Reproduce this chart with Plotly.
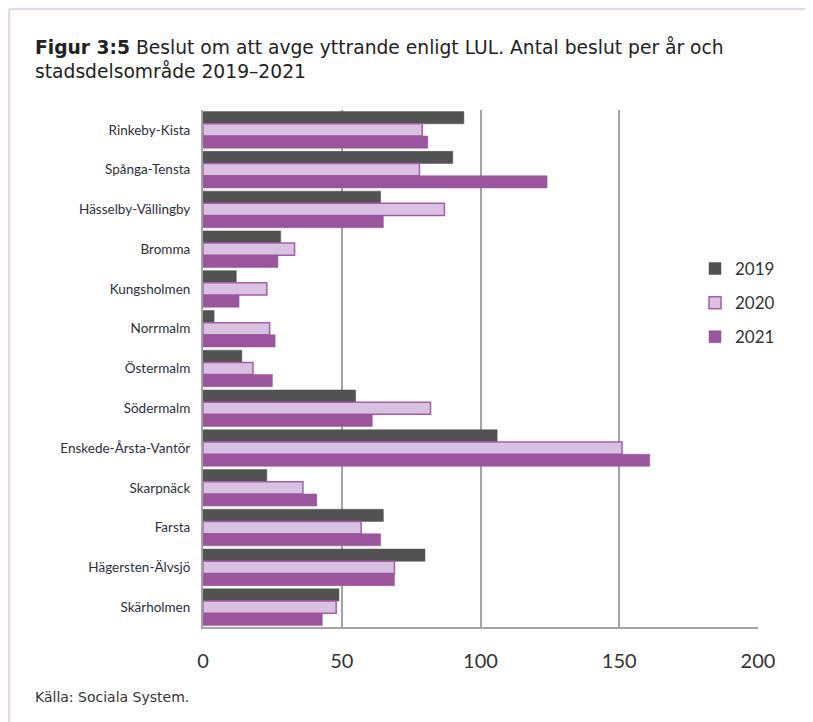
import plotly.graph_objects as go

categories = ["Rinkeby-Kista", "Spånga-Tensta", "Hässelby-Vällingby", "Bromma", "Kungsholmen",
              "Norrmalm", "Östermalm", "Södermalm", "Enskede-Årsta-Vantör", "Skarpnäck",
              "Farsta", "Hägersten-Älvsjö", "Skärholmen"]
v2019 = [94, 90, 64, 28, 12, 4, 14, 55, 106, 23, 65, 80, 49]
v2020 = [79, 78, 87, 33, 23, 24, 18, 82, 151, 36, 57, 69, 48]
v2021 = [81, 124, 65, 27, 13, 26, 25, 61, 161, 41, 64, 69, 43]
years = ["2019", "2020", "2021"]
tick_vals = [0, 50, 100, 150, 200]

FONT = "Lato, 'Open Sans', sans-serif"
TFONT = "'DejaVu Sans', 'Open Sans', sans-serif"
TXT = "#2e2e3a"

fig = go.Figure()
fig.add_trace(go.Bar(y=categories, x=v2019, name=years[0], orientation="h", legendgroup="a",
                     marker=dict(color="#525252", line=dict(color="#525252", width=0.5))))
fig.add_trace(go.Bar(y=categories, x=v2020, name=years[1], orientation="h", legendgroup="b",
                     marker=dict(color="#d9c1e1", line=dict(color="#a65ea9", width=1.5))))
fig.add_trace(go.Bar(y=categories, x=v2021, name=years[2], orientation="h", legendgroup="c",
                     marker=dict(color="#9b559d", line=dict(color="#9b559d", width=0.5))))

OFF = 8  # page body margin offset
W, H = 813, 722
# target screen positions of plot area
sx0, sx1, sy0, sy1 = 203, 758, 110, 627
L, T = sx0 - OFF, sy0 - OFF
R = W - (sx1 - OFF)
B = H - (sy1 - OFF)
pw, ph = sx1 - sx0, sy1 - sy0


def px(sx):
    return (sx - sx0) / pw


def py(sy):
    return (sy1 - sy) / ph


fig.update_layout(
    width=W, height=H,
    margin=dict(l=L, r=R, t=T, b=B),
    paper_bgcolor="white", plot_bgcolor="white",
    barmode="group", bargap=0.08, bargroupgap=0,
    font=dict(family=FONT, color=TXT, size=13),
    xaxis=dict(range=[0, 200], tickvals=tick_vals, showgrid=True, gridcolor="#a3a3a3", gridwidth=2,
               zeroline=False, showline=True, linecolor="#a3a3a3", linewidth=2, mirror=False,
               ticks="", ticklabelstandoff=15, tickfont=dict(size=20, color="#333"), fixedrange=True),
    yaxis=dict(autorange="reversed", showline=True, linecolor="#a3a3a3", linewidth=2,
               ticks="", ticklabelstandoff=8, tickfont=dict(size=13.5, color=TXT)),
    legend=dict(x=px(695), y=py(251), xanchor="left", yanchor="top",
                font=dict(size=17, color="#333"), traceorder="grouped", tracegroupgap=9,
                itemwidth=30, bgcolor="rgba(0,0,0,0)"),
    showlegend=True,
)

# light frame at top and left of the figure
fig.add_shape(type="line", xref="paper", yref="paper",
              x0=px(9), x1=px(W + 20), y0=py(9), y1=py(9),
              line=dict(color="#e6d6ec", width=2.5))
fig.add_shape(type="line", xref="paper", yref="paper",
              x0=px(9), x1=px(9), y0=py(9), y1=py(H + 20),
              line=dict(color="#e6d6ec", width=2.5))

fig.add_annotation(text="<b>Figur 3:5</b> Beslut om att avge yttrande enligt LUL. Antal beslut per år och<br>stadsdelsområde 2019–2021",
                   xref="paper", yref="paper", x=px(33), y=py(34), xanchor="left", yanchor="top",
                   align="left", showarrow=False, font=dict(family=TFONT, size=18.7, color="#222"))

fig.add_annotation(text="Källa: Sociala System.", xref="paper", yref="paper",
                   x=px(33), y=py(697), xanchor="left", yanchor="middle",
                   showarrow=False, font=dict(family=TFONT, size=14, color="#333"))

fig.write_html("out.html")
